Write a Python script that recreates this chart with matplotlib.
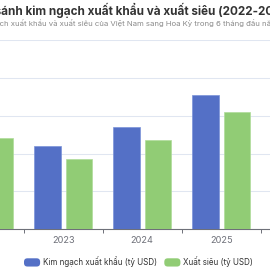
import matplotlib
matplotlib.use("Agg")
import matplotlib.pyplot as plt
import numpy as np
from matplotlib.patches import FancyBboxPatch, Rectangle
from matplotlib.legend_handler import HandlerPatch

plt.rcParams['font.family'] = ['Inter', 'DejaVu Sans']

# data (tỷ USD, 6 tháng đầu năm)
years = ['2022', '2023', '2024', '2025']
export_value = [55.6, 44.0, 54.0, 70.7]
trade_surplus = [48.2, 37.1, 47.1, 61.9]

title = 'So sánh kim ngạch xuất khẩu và xuất siêu (2022-2025)'
subtitle = 'Kim ngạch xuất khẩu và xuất siêu của Việt Nam sang Hoa Kỳ trong 6 tháng đầu năm'
label_export = 'Kim ngạch xuất khẩu (tỷ USD)'
label_surplus = 'Xuất siêu (tỷ USD)'

BLUE = '#5470c6'
GREEN = '#91cc75'
AXIS = '#6E7079'
GRID = '#E0E6F1'

W = H = 270
fig = plt.figure(figsize=(2.7, 2.7), dpi=100)

# the chart is a crop of a wider one: axes run past both edges
ax = fig.add_axes([-55.3 / W, 40.7 / H, 4.5 * 79 / W, 5 * 37.9 / H])

x = np.arange(len(years))
bw = 0.334
b1 = ax.bar(x - 0.199, export_value, bw, color=BLUE, edgecolor='#7b93d8', linewidth=0.5,
            label=label_export, zorder=3)
b2 = ax.bar(x + 0.198, trade_surplus, bw, color=GREEN, edgecolor='#b0dc9a', linewidth=0.5,
            label=label_surplus, zorder=3)

ax.set_xlim(-0.5, 4.0)
ax.set_ylim(0, 100)
ax.set_yticks(np.arange(0, 101, 20))
ax.yaxis.grid(True, color=GRID, linewidth=0.75, zorder=0)
ax.tick_params(axis='y', length=0, labelleft=False)

ax.set_xticks(x)
ax.set_xticklabels(years)
ax.set_xticks(np.arange(-0.5, 4.0, 1.0), minor=True)
ax.tick_params(axis='x', which='major', length=0, pad=5, labelsize=6.6, labelcolor=AXIS)
ax.tick_params(axis='x', which='minor', length=3, width=0.7, color=AXIS, direction='out')

for s in ['top', 'right', 'left']:
    ax.spines[s].set_visible(False)
ax.spines['bottom'].set_color(AXIS)
ax.spines['bottom'].set_linewidth(0.8)

# title and subtitle, centred in the original wider chart, so shift them left
renderer = fig.canvas.get_renderer()

def prefix_width(txt, **kw):
    t = fig.text(0, 0, txt, **kw)
    w = t.get_window_extent(renderer).width
    t.remove()
    return w

tkw = dict(fontsize=8.45, fontweight='bold', color='#333333')
skw = dict(fontsize=5.6, color='#8a8a8a')
wt = prefix_width('So s', **tkw)
ws = prefix_width('Kim ngạ', **skw)
fig.text((1 - wt) / W, 1 - 14.5 / H, title, ha='left', va='baseline', **tkw)
fig.text((0 - ws) / W, 1 - 26 / H, subtitle, ha='left', va='baseline', **skw)


class RoundHandler(HandlerPatch):
    def create_artists(self, legend, orig_handle, xdescent, ydescent,
                       width, height, fontsize, trans):
        p = FancyBboxPatch((-xdescent, -ydescent), width, height,
                           boxstyle='round,pad=0,rounding_size=2.5',
                           facecolor=orig_handle.get_facecolor(), edgecolor='none',
                           transform=trans)
        return [p]


fig.legend(handles=[b1.patches[0], b2.patches[0]], labels=[label_export, label_surplus],
           handler_map={Rectangle: RoundHandler()},
           loc='center left', bbox_to_anchor=(24 / W, 1 - 261.7 / H), ncol=2,
           frameon=False, fontsize=5.8, labelcolor='#333333',
           handlelength=2.0, handleheight=1.2, handletextpad=0.35,
           columnspacing=0.9, borderpad=0, borderaxespad=0)

fig.savefig('out.png', dpi=100)
